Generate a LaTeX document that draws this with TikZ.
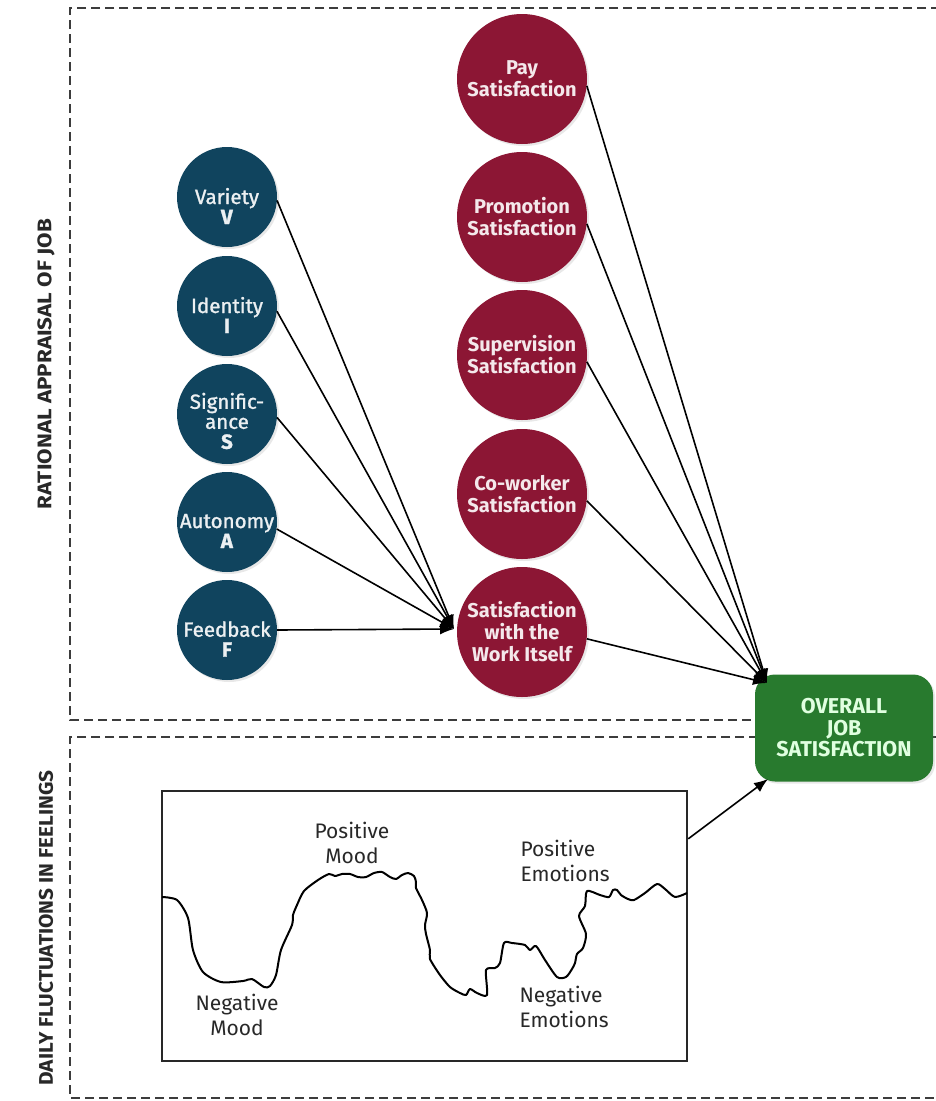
\documentclass[tikz,border=0pt]{standalone}
\usepackage{fontspec}
\setmainfont{Fira Sans}
\newfontfamily\facetfont[FakeBold=1.3]{Fira Sans}
\usetikzlibrary{arrows.meta,calc,shadows}

\definecolor{jobblue}{RGB}{16,68,94}
\definecolor{jobred}{RGB}{140,22,52}
\definecolor{jobgreen}{RGB}{40,122,46}
\definecolor{dashgray}{RGB}{60,60,60}
\definecolor{inkgray}{RGB}{40,40,40}

\tikzset{
  facet/.style={circle, fill=jobblue, minimum size=100pt, inner sep=0pt,
    drop shadow={opacity=0.18, shadow xshift=2pt, shadow yshift=-2pt}},
  facettext/.style={text=white!92!jobblue, align=center, inner sep=0pt,
    font=\facetfont\fontsize{20.5}{20}\selectfont},
  satis/.style={circle, fill=jobred, minimum size=130pt, inner sep=0pt,
    text=white!90!jobred, align=center, font=\fontsize{20}{22}\selectfont\bfseries,
    drop shadow={opacity=0.18, shadow xshift=2pt, shadow yshift=-2pt}},
  overall/.style={rectangle, rounded corners=20pt, fill=jobgreen,
    minimum width=178pt, minimum height=107pt, inner sep=0pt,
    text=green!12!white, align=center, font=\fontsize{21.5}{21.5}\selectfont\bfseries,
    drop shadow={opacity=0.18, shadow xshift=2pt, shadow yshift=-2pt}},
  region/.style={draw=dashgray, line width=2.4pt, dash pattern=on 9pt off 5pt},
  sidelabel/.style={rotate=90, text=inkgray},
  link/.style={line width=1.6pt, -{Latex[length=14pt,width=11pt]}},
  moodframe/.style={draw=inkgray, line width=2.5pt},
  wave/.style={draw=black, line width=2pt, line join=round},
  moodlabel/.style={text=inkgray, align=left, font=\fontsize{21}{25}\selectfont}
}

\begin{document}
\begin{tikzpicture}[x=1pt, y=-1pt]
  \useasboundingbox (0,0) rectangle (935,1101);
  \fill[white] (0,0) rectangle (935,1101);

  % two dashed regions, open towards the right edge
  \draw[region] (940,8) -- (70,8) -- (70,720) -- (940,720);
  \draw[region] (940,737) -- (70,737) -- (70,1098) -- (940,1098);
  \node[sidelabel] (lblrational) at (46,364)
    {\resizebox{290pt}{14pt}{\bfseries RATIONAL APPRAISAL OF JOB}};
  \node[sidelabel] (lbldaily) at (46,928)
    {\resizebox{315pt}{14pt}{\bfseries DAILY FLUCTUATIONS IN FEELINGS}};

  % job characteristics (labels sit a little below the centre)
  \node[facet, label={[facettext, yshift=-9pt]center:{Variety\\\textbf{V}}}] (V) at (227,197) {};
  \node[facet, label={[facettext, yshift=-9pt]center:{Identity\\\textbf{I}}}] (I) at (227,306) {};
  \node[facet, label={[facettext, yshift=-7pt]center:{Signific-\\ance\\\textbf{S}}}] (S) at (227,414) {};
  \node[facet, label={[facettext, yshift=-9pt]center:{Autonomy\\\textbf{A}}}] (A) at (227,522) {};
  \node[facet, label={[facettext, yshift=-9pt]center:{Feedback\\\textbf{F}}}] (F) at (227,630) {};

  % satisfaction facets
  \node[satis] (pay)    at (522,79)  {Pay\\Satisfaction};
  \node[satis] (promo)  at (522,217) {Promotion\\Satisfaction};
  \node[satis] (superv) at (522,355) {Supervision\\Satisfaction};
  \node[satis] (cowork) at (522,494) {Co-worker\\Satisfaction};
  \node[satis] (work)   at (522,632) {Satisfaction\\with the\\Work Itself};

  % overall outcome
  \node[overall] (overall) at (844,728) {OVERALL\\JOB\\SATISFACTION};

  % meeting points of the arrows
  \coordinate (worktip) at (454,629);
  \coordinate (overtip) at (767,683);
  \coordinate (overtiplow) at (768,779);

  \draw[link] (V.-4) -- (worktip);
  \draw[link] (I.-6) -- (worktip);
  \draw[link] (S.-4) -- (worktip);
  \draw[link] (A.-8) -- (worktip);
  \draw[link] (F.0) -- (worktip);

  \foreach \n in {pay,promo,superv,cowork,work}
    \draw[link] (\n.-6) -- (overtip);

  % daily feelings panel
  \node[moodframe, minimum width=525pt, minimum height=270pt, inner sep=0pt]
    (mood) at (424.5,926) {};
  \draw[wave] plot[smooth, tension=0.45] coordinates {
    (162,897) (177,900) (188,918) (193,950) (203,972) (221,982) (243,981)
    (252,979) (264,987) (270,986) (276,975) (281,950) (292,925) (293,915)
    (297,905) (304,891) (318,880) (329,874) (335,876) (342,874) (350,874)
    (358,877) (366,877) (374,873) (382,872) (390,877) (396,879) (402,875)
    (408,873) (414,876) (416,882) (416,888) (422,900) (427,913) (425,925)
    (426,934) (430,950) (430,959) (440,975) (450,987) (460,993) (466,995)
    (470,989) (477,993) (487,995) (486,970) (495,968) (500,963) (504,943)
    (512,943) (525,945) (530,950) (536,946) (545,960) (557,977) (566,977)
    (572,969) (575,963) (577,954) (583,948) (586,934) (579,916) (585,906)
    (587,891) (600,895) (609,897) (613,890) (617,890) (621,895) (628,899)
    (634,900) (645,893) (657,884) (665,889) (675,897) (687,893)};

  \node[moodlabel, align=center] (posmood) at (352,843) {Positive\\Mood};
  \node[moodlabel, align=center] (negmood) at (237,1015) {Negative\\Mood};
  \node[moodlabel, anchor=west] (posemo) at (517,861) {Positive\\Emotions};
  \node[moodlabel, anchor=west] (negemo) at (516,1007) {Negative\\Emotions};

  \draw[link] ($(mood.north east)!0.18!(mood.south east)$) -- (overtiplow);
\end{tikzpicture}
\end{document}
